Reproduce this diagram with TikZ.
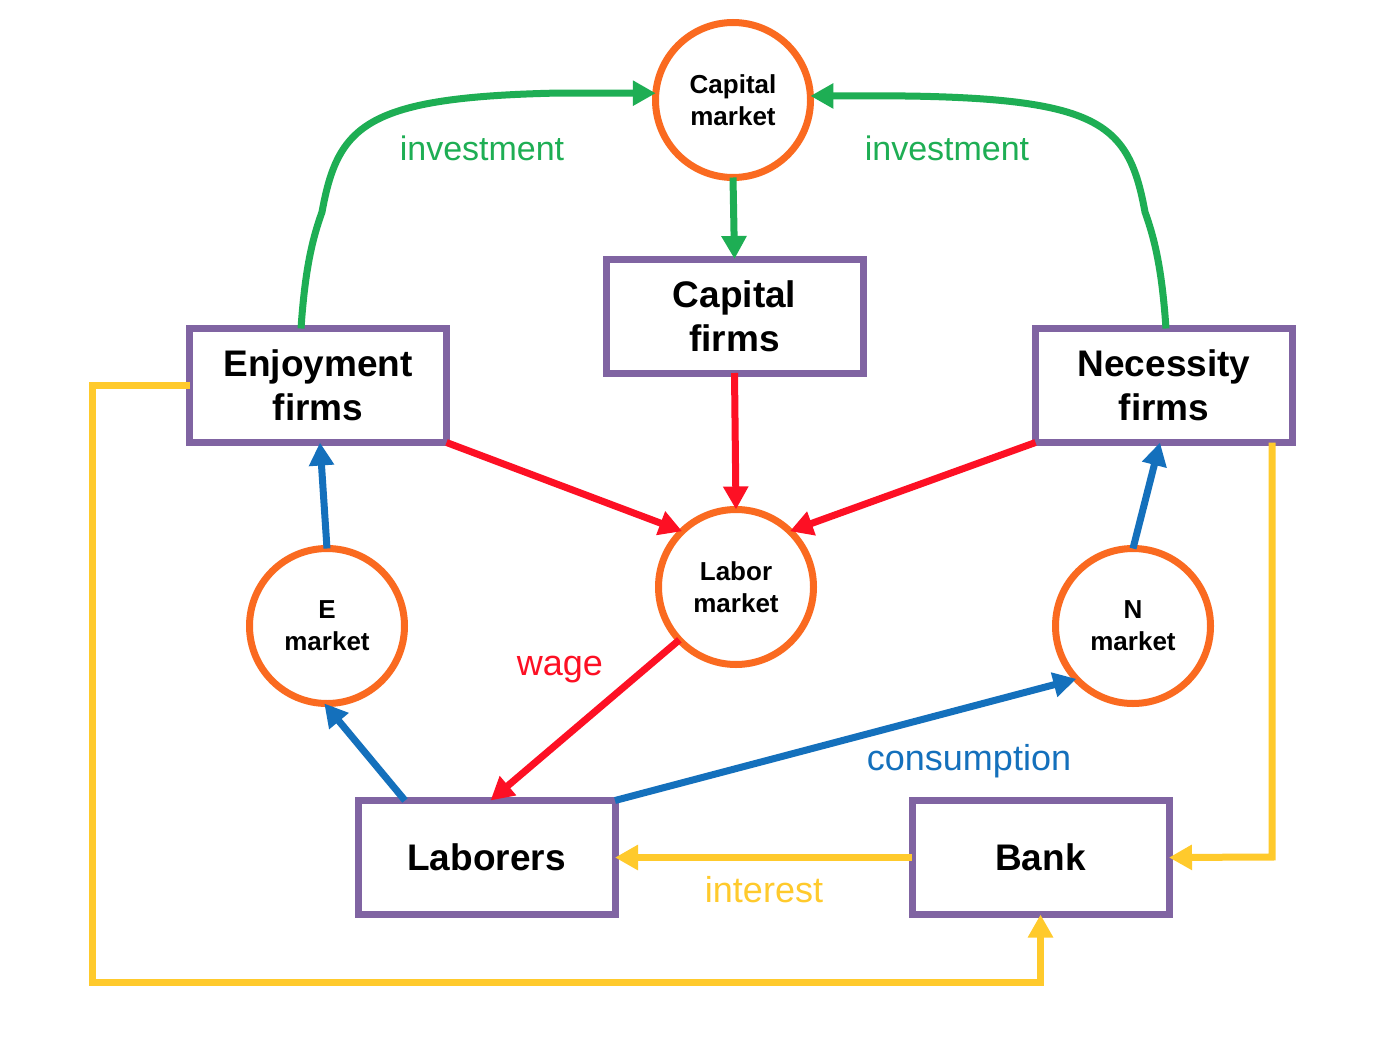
\documentclass[tikz,border=0pt]{standalone}
\usepackage{fontspec}
\setmainfont{Liberation Sans}
\usetikzlibrary{arrows.meta}
\definecolor{cOr}{RGB}{250,106,32}
\definecolor{cGr}{RGB}{30,174,84}
\definecolor{cRd}{RGB}{253,16,36}
\definecolor{cBl}{RGB}{20,112,188}
\definecolor{cYe}{RGB}{255,202,44}
\definecolor{cPu}{RGB}{128,100,162}
\begin{document}
\begin{tikzpicture}[x=1pt,y=-1pt,
  mkt/.style={circle,draw=cOr,line width=7pt,minimum size=155pt,inner sep=0pt,outer sep=0pt,align=center,font=\fontsize{26}{32}\selectfont\bfseries,fill=white},
  agent/.style={rectangle,draw=cPu,line width=7pt,minimum width=257pt,minimum height=114pt,inner sep=0pt,outer sep=0pt,align=center,font=\fontsize{37}{44}\selectfont\bfseries,fill=white},
  flow/.style={line width=7pt,-{Triangle[length=23pt,width=24pt]}},
  lbl/.style={anchor=base,inner sep=0pt,font=\fontsize{36}{40}\selectfont}
]
\useasboundingbox[fill=white] (0,0) rectangle (1390,1052);

% nodes
\node[mkt] (cm) at (733,100) {Capital\\market};
\node[agent] (cf) at (734.5,316) {Capital\\firms};
\node[agent] (enj) at (318,385.5) {Enjoyment\\firms};
\node[agent] (nec) at (1164,385.5) {Necessity\\firms};
\node[mkt] (lab) at (736,587) {Labor\\market};
\node[mkt] (em) at (327,626) {E\\market};
\node[mkt] (nm) at (1133,626) {N\\market};
\node[agent] (lbr) at (486.5,857.5) {Laborers};
\node[agent] (bank) at (1040.5,857.5) {Bank};

% helper coordinates
\coordinate (gL1) at (322,212);
\coordinate (gL2) at (560,93);
\coordinate (gR1) at (1145,212);
\coordinate (gR2) at (907,96);
\coordinate (yL) at (92,982);
\coordinate (yR) at (1272,857);

% green: investment
\draw[flow,cGr] ([xshift=-17pt]enj.north) .. controls (305,270) and (312,240) .. (gL1)
   .. controls (338,125) and (365,97) .. (gL2) -- (cm.175);
\draw[flow,cGr] ([xshift=2pt]nec.north) .. controls (1162,270) and (1155,240) .. (gR1)
   .. controls (1129,125) and (1102,99) .. (gR2) -- (cm.3);
\draw[flow,cGr] (cm.south) -- (cf.north);

% red: labor
\draw[flow,cRd] (cf.south) -- (lab.north);
\draw[flow,cRd] (enj.south east) -- (lab.134);
\draw[flow,cRd] (nec.south west) -- (lab.46);
\draw[flow,cRd] (lab.223) -- ([xshift=4pt]lbr.north);

% blue: consumption
\draw[flow,cBl] ([xshift=-81.5pt]lbr.north) -- (em.268);
\draw[flow,cBl] (lbr.north east) -- (nm.223);
\draw[flow,cBl] (em.north) -- ([xshift=2pt]enj.south);
\draw[flow,cBl] (nm.north) -- ([xshift=-4pt]nec.south);

% yellow: interest
\draw[flow,cYe] (enj.west) -| (yL) -| (bank.south);
\draw[flow,cYe] (nec.south -| yR) -- (yR) -- (bank.east);
\draw[flow,cYe] (bank.west) -- (lbr.east);

% labels
\node[lbl,cGr,font=\fontsize{34}{40}\selectfont] (inv1) at (482,160) {investment};
\node[lbl,cGr,font=\fontsize{34}{40}\selectfont] (inv2) at (947,160) {investment};
\node[lbl,cRd] (wage) at (560,675) {wage};
\node[lbl,cBl] (cons) at (969,770) {consumption};
\node[lbl,cYe] (intr) at (764,902) {interest};
\end{tikzpicture}
\end{document}
